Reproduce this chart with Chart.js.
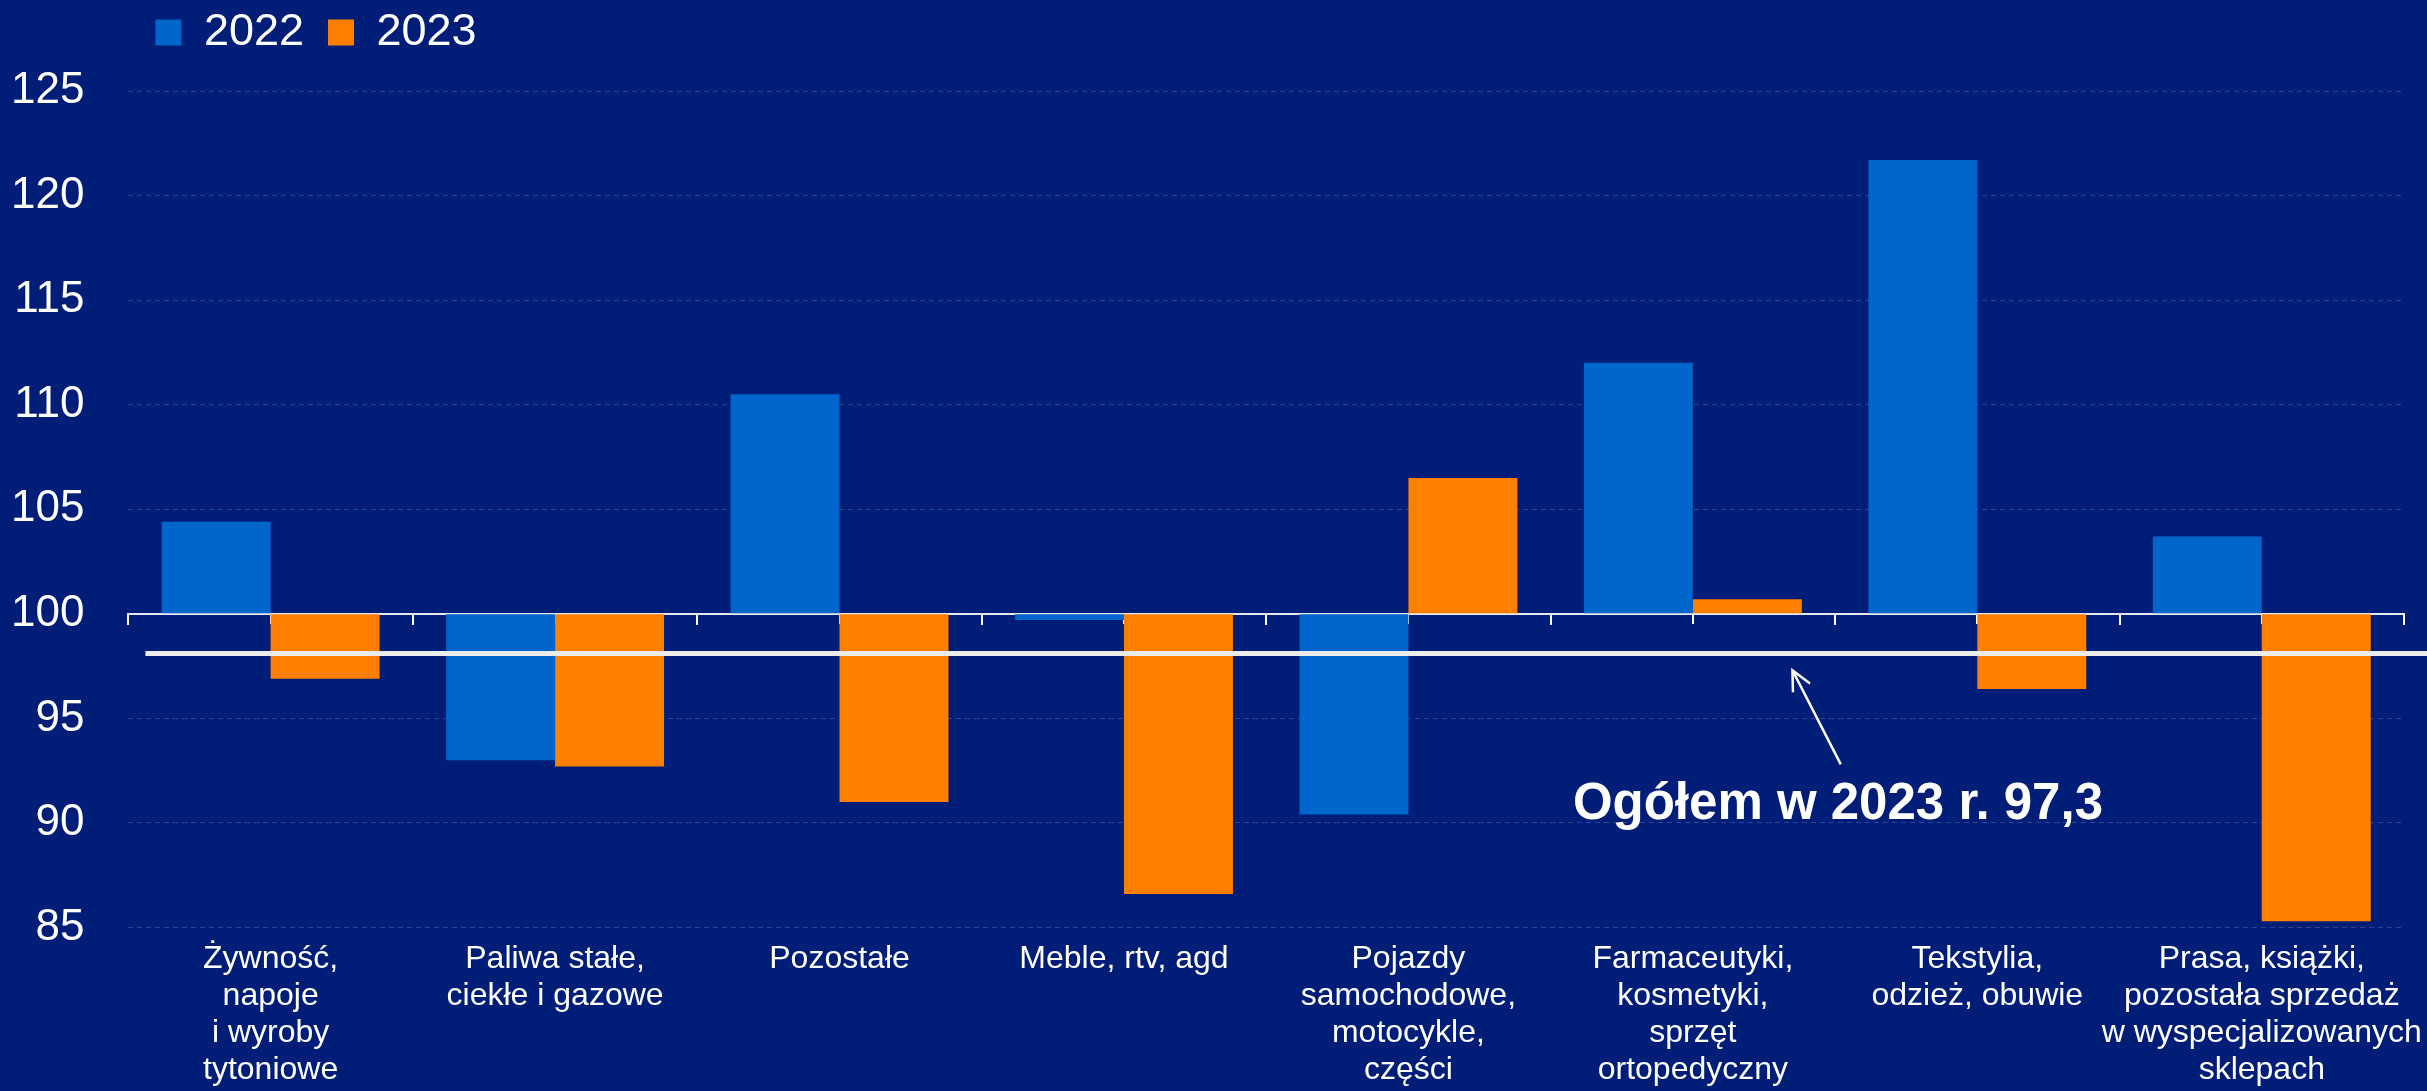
<!DOCTYPE html>
<html>
<head>
<meta charset="utf-8">
<script src="https://cdn.jsdelivr.net/npm/chart.js@4/dist/chart.umd.min.js"></script>
<style>
  html, body { margin: 0; padding: 0; background: #001e78; }
  #wrap { width: 2427px; height: 1091px; }
</style>
</head>
<body>
<div id="wrap"><canvas id="retailChart"></canvas></div>
<script>
// categories (multi-line labels as in the original)
const categories = [
  ['Żywność,', 'napoje', 'i wyroby', 'tytoniowe'],
  ['Paliwa stałe,', 'ciekłe i gazowe'],
  'Pozostałe',
  'Meble, rtv, agd',
  ['Pojazdy', 'samochodowe,', 'motocykle,', 'części'],
  ['Farmaceutyki,', 'kosmetyki,', 'sprzęt', 'ortopedyczny'],
  ['Tekstylia,', 'odzież, obuwie'],
  ['Prasa, książki,', 'pozostała sprzedaż', 'w wyspecjalizowanych', 'sklepach']
];
const seriesNames = ['2022', '2023'];
const values2022 = [104.4, 93.0, 110.5, 99.7, 90.4, 112.0, 121.7, 103.7];
const values2023 = [96.9, 92.7, 91.0, 86.6, 106.5, 100.7, 96.4, 85.3];
const yTicks = [85, 90, 95, 100, 105, 110, 115, 120, 125];
const baseValue = 100;

// "Ogółem" annotation
const overallLabel = 'Ogółem w 2023 r. 97,3';
const overallValue = 97.3;
const overallLineValue = 98.1; // where the white line sits in the picture

const blue = '#0066cc';
const orange = '#ff8000';
const fontFamily = '"Liberation Sans", Arial, sans-serif';

Chart.defaults.font.family = fontFamily;
Chart.defaults.color = '#ffffff';

function drawArrow(ctx, fromX, fromY, toX, toY) {
  const angle = Math.atan2(toY - fromY, toX - fromX);
  const head = 22, spread = 0.45;
  ctx.beginPath();
  ctx.moveTo(fromX, fromY);
  ctx.lineTo(toX, toY);
  ctx.moveTo(toX - head * Math.cos(angle - spread), toY - head * Math.sin(angle - spread));
  ctx.lineTo(toX, toY);
  ctx.lineTo(toX - head * Math.cos(angle + spread), toY - head * Math.sin(angle + spread));
  ctx.stroke();
}

// white "overall" line, arrow and label
const overallPlugin = {
  id: 'overall',
  afterDatasetsDraw(chart) {
    const {ctx, chartArea, scales: {x, y}} = chart;
    const yLine = y.getPixelForValue(overallLineValue);
    ctx.save();
    ctx.strokeStyle = '#ececec';
    ctx.lineWidth = 5;
    ctx.beginPath();
    ctx.moveTo(chartArea.left + 17, yLine);
    ctx.lineTo(chart.width, yLine);
    ctx.stroke();

    ctx.strokeStyle = '#ffffff';
    ctx.lineWidth = 2.5;
    drawArrow(ctx, x.getPixelForValue(5.52), y.getPixelForValue(92.8),
              x.getPixelForValue(5.35), y.getPixelForValue(overallValue));

    ctx.fillStyle = '#ffffff';
    ctx.font = 'bold 51px ' + fontFamily;
    ctx.textAlign = 'center';
    ctx.textBaseline = 'alphabetic';
    ctx.fillText(overallLabel, x.getPixelForValue(5.51), y.getPixelForValue(90.2));
    ctx.restore();
  }
};

// legend sits higher and leaves room above the plot
const legendPlacement = {
  id: 'legendPlacement',
  beforeInit(chart) {
    const legend = chart.legend;
    const fit = legend.fit;
    legend.fit = function () {
      fit.call(this);
      this.height = 91;
    };
  },
  afterLayout(chart) {
    chart.legend.top -= 14;
    chart.legend.left += 3;
  }
};

const ctx = document.getElementById('retailChart');
new Chart(ctx, {
  type: 'bar',
  data: {
    labels: categories,
    datasets: [
      { label: seriesNames[0], data: values2022, base: baseValue, backgroundColor: blue, borderWidth: 0 },
      { label: seriesNames[1], data: values2023, base: baseValue, backgroundColor: orange, borderWidth: 0 }
    ]
  },
  options: {
    responsive: true,
    maintainAspectRatio: false,
    animation: false,
    layout: { padding: { left: 11, right: 23, top: 0, bottom: 2 } },
    datasets: {
      bar: { categoryPercentage: 0.766, barPercentage: 1.0 }
    },
    scales: {
      x: {
        offset: true,
        grid: { display: false, drawTicks: false },
        border: { display: false },
        ticks: {
          color: '#ffffff',
          font: { size: 32, lineHeight: 1.16 },
          padding: 13,
          maxRotation: 0,
          autoSkip: false
        },
        afterFit(scale) {
          scale.height -= scale.options.ticks.padding;
          scale.paddingRight = 0;
        }
      },
      // axis line at 100 with ticks between categories
      xLine: {
        type: 'category',
        position: { y: baseValue },
        offset: true,
        z: 1,
        ticks: { display: false },
        grid: { offset: true, drawOnChartArea: false, drawTicks: true, tickLength: 10, color: '#ffffff', lineWidth: 2 },
        border: { display: true, color: '#e8e8f0', width: 2 }
      },
      // ticks at category centres
      xMid: {
        type: 'category',
        position: { y: baseValue },
        offset: true,
        z: 1,
        ticks: { display: false },
        grid: { offset: false, drawOnChartArea: false, drawTicks: true, tickLength: 10, color: '#ffffff', lineWidth: 2 },
        border: { display: false }
      },
      y: {
        min: yTicks[0],
        max: yTicks[yTicks.length - 1],
        ticks: {
          stepSize: yTicks[1] - yTicks[0],
          color: '#ffffff',
          font: { size: 44 },
          padding: 44
        },
        grid: {
          drawTicks: false,
          lineWidth: 1,
          color: c => c.tick && c.tick.value === baseValue ? 'rgba(0,0,0,0)' : 'rgba(120,140,210,0.35)'
        },
        border: { display: false, dash: [5, 4] },
        afterFit(scale) { scale.width -= scale.options.ticks.padding; }
      }
    },
    plugins: {
      legend: {
        position: 'top',
        align: 'start',
        fullSize: false,
        labels: {
          color: '#ffffff',
          font: { size: 45 },
          boxWidth: 26,
          boxHeight: 26,
          padding: 24
        }
      },
      title: { display: false },
      tooltip: { enabled: false }
    }
  },
  plugins: [overallPlugin, legendPlacement]
});
</script>
</body>
</html>
